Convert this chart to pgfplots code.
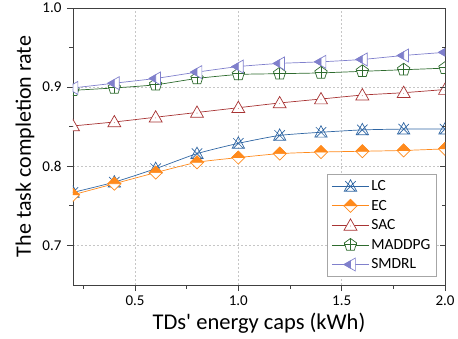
\documentclass[border=0pt]{standalone}
\usepackage{fontspec}
\setmainfont{Carlito}
\usepackage{pgfplots}
\pgfplotsset{compat=1.18}
\definecolor{lcc}{HTML}{2F66A3}
\definecolor{ecc}{HTML}{FF8A1C}
\definecolor{sacc}{HTML}{A83434}
\definecolor{madc}{HTML}{2E6B2E}
\definecolor{smc}{HTML}{8080CC}
\definecolor{axc}{HTML}{404040}
\pgfdeclareplotmark{lcmark}{%
  \pgfpathmoveto{\pgfqpoint{0pt}{\pgfplotmarksize}}%
  \pgfpathlineto{\pgfqpoint{-.95\pgfplotmarksize}{-.75\pgfplotmarksize}}%
  \pgfpathlineto{\pgfqpoint{.95\pgfplotmarksize}{-.75\pgfplotmarksize}}%
  \pgfpathclose
  \pgfpathmoveto{\pgfqpoint{-.8\pgfplotmarksize}{.8\pgfplotmarksize}}%
  \pgfpathlineto{\pgfqpoint{.8\pgfplotmarksize}{-.8\pgfplotmarksize}}%
  \pgfpathmoveto{\pgfqpoint{.8\pgfplotmarksize}{.8\pgfplotmarksize}}%
  \pgfpathlineto{\pgfqpoint{-.8\pgfplotmarksize}{-.8\pgfplotmarksize}}%
  \pgfusepathqstroke}
\pgfdeclareplotmark{ecmark}{%
  \pgfpathmoveto{\pgfqpoint{0pt}{\pgfplotmarksize}}%
  \pgfpathlineto{\pgfqpoint{\pgfplotmarksize}{0pt}}%
  \pgfpathlineto{\pgfqpoint{0pt}{-\pgfplotmarksize}}%
  \pgfpathlineto{\pgfqpoint{-\pgfplotmarksize}{0pt}}%
  \pgfpathclose
  \pgfsetfillcolor{white}\pgfusepathqfillstroke
  \pgfpathmoveto{\pgfqpoint{0pt}{\pgfplotmarksize}}%
  \pgfpathlineto{\pgfqpoint{\pgfplotmarksize}{0pt}}%
  \pgfpathlineto{\pgfqpoint{-\pgfplotmarksize}{0pt}}%
  \pgfpathclose
  \pgfsetfillcolor{ecc}\pgfusepathqfillstroke}
\pgfdeclareplotmark{sacmark}{%
  \pgfpathmoveto{\pgfqpoint{0pt}{\pgfplotmarksize}}%
  \pgfpathlineto{\pgfqpoint{-\pgfplotmarksize}{-.75\pgfplotmarksize}}%
  \pgfpathlineto{\pgfqpoint{\pgfplotmarksize}{-.75\pgfplotmarksize}}%
  \pgfpathclose
  \pgfsetfillcolor{white}\pgfusepathqfillstroke
  \pgfpathcircle{\pgfqpoint{0pt}{-.1\pgfplotmarksize}}{.4pt}%
  \pgfsetfillcolor{sacc}\pgfusepathqfill}
\pgfdeclareplotmark{madmark}{%
  \pgfpathmoveto{\pgfqpointpolar{90}{\pgfplotmarksize}}%
  \pgfpathlineto{\pgfqpointpolar{162}{\pgfplotmarksize}}%
  \pgfpathlineto{\pgfqpointpolar{234}{\pgfplotmarksize}}%
  \pgfpathlineto{\pgfqpointpolar{306}{\pgfplotmarksize}}%
  \pgfpathlineto{\pgfqpointpolar{18}{\pgfplotmarksize}}%
  \pgfpathclose
  \pgfsetfillcolor{white}\pgfusepathqfillstroke
  \pgfpathmoveto{\pgfqpoint{0pt}{\pgfplotmarksize}}%
  \pgfpathlineto{\pgfqpoint{0pt}{-.8\pgfplotmarksize}}%
  \pgfpathmoveto{\pgfqpoint{-.95\pgfplotmarksize}{.1\pgfplotmarksize}}%
  \pgfpathlineto{\pgfqpoint{.95\pgfplotmarksize}{.1\pgfplotmarksize}}%
  \pgfusepathqstroke}
\pgfdeclareplotmark{smmark}{%
  \pgfpathmoveto{\pgfqpoint{-\pgfplotmarksize}{0pt}}%
  \pgfpathlineto{\pgfqpoint{.75\pgfplotmarksize}{\pgfplotmarksize}}%
  \pgfpathlineto{\pgfqpoint{.75\pgfplotmarksize}{-\pgfplotmarksize}}%
  \pgfpathclose
  \pgfsetfillcolor{white}\pgfusepathqfillstroke
  \pgfpathmoveto{\pgfqpoint{-\pgfplotmarksize}{0pt}}%
  \pgfpathlineto{\pgfqpoint{0pt}{.57\pgfplotmarksize}}%
  \pgfpathlineto{\pgfqpoint{0pt}{-.57\pgfplotmarksize}}%
  \pgfpathclose
  \pgfsetfillcolor{smc}\pgfusepathqfillstroke}
\begin{document}
\begin{tikzpicture}
\begin{axis}[
  name=ax,
  scale only axis,
  width=372pt, height=277pt,
  xmin=0.2, xmax=2.0, ymin=0.65, ymax=1.0,
  xtick={0.5,1.0,1.5,2.0},
  minor xtick={0.25,0.75,1.25,1.75},
  ytick={0.7,0.8,0.9,1.0},
  minor ytick={0.75,0.85,0.95},
  xticklabel style={/pgf/number format/fixed,/pgf/number format/fixed zerofill,/pgf/number format/precision=1, yshift=-1pt},
  yticklabel style={/pgf/number format/fixed,/pgf/number format/fixed zerofill,/pgf/number format/precision=1, xshift=-2pt},
  /pgf/number format/assume math mode=true,
  tick label style={font=\fontsize{15}{17}\selectfont, text=black},
  label style={font=\fontsize{22.5}{26}\selectfont},
  xlabel={TDs\textquotesingle\ energy caps (kWh)},
  ylabel={The task completion rate},
  xlabel style={at={(axis description cs:0.5,0)}, anchor=center, yshift=-38pt},
  ylabel style={at={(axis description cs:0,0.5)}, anchor=center, rotate=0, yshift=48pt, font=\fontsize{22}{26}\selectfont},
  axis line style={axc, line width=0.9pt},
  tick style={axc, line width=0.8pt},
  tick align=outside,
  major tick length=6pt, minor tick length=3.5pt,
  xtick pos=bottom, ytick pos=left,
  grid=major,
  major grid style={gray!45, dash pattern=on 2pt off 2pt, line width=0.5pt},
  clip marker paths=true,
  legend style={at={(0.978,0.03)}, anchor=south east, draw=gray!70, line width=0.8pt,
    font=\fontsize{15.5}{17}\selectfont, row sep=4pt, inner sep=4pt, fill=white},
  legend cell align=left,
  legend image code/.code={\draw[mark repeat=2,mark phase=2,#1] plot coordinates {(0cm,0cm) (0.65cm,0cm) (1.3cm,0cm)};},
  every axis plot/.append style={line width=0.7pt, mark size=6.5pt, smooth, tension=0.35},
]
\addplot[lcc, mark=lcmark, mark options={solid, line width=0.7pt}] coordinates {
(0.2,0.767) (0.4,0.780) (0.6,0.797) (0.8,0.816) (1.0,0.829) (1.2,0.839) (1.4,0.843) (1.6,0.846) (1.8,0.847) (2.0,0.847)};
\addlegendentry{LC}
\addplot[ecc, mark=ecmark, mark options={solid, line width=0.7pt}] coordinates {
(0.2,0.764) (0.4,0.778) (0.6,0.792) (0.8,0.805) (1.0,0.811) (1.2,0.816) (1.4,0.818) (1.6,0.819) (1.8,0.820) (2.0,0.822)};
\addlegendentry{EC}
\addplot[sacc, mark=sacmark, mark options={solid, line width=0.7pt}] coordinates {
(0.2,0.851) (0.4,0.856) (0.6,0.862) (0.8,0.868) (1.0,0.874) (1.2,0.880) (1.4,0.885) (1.6,0.890) (1.8,0.893) (2.0,0.897)};
\addlegendentry{SAC}
\addplot[madc, mark=madmark, mark options={solid, line width=0.7pt}] coordinates {
(0.2,0.896) (0.4,0.899) (0.6,0.903) (0.8,0.911) (1.0,0.916) (1.2,0.917) (1.4,0.918) (1.6,0.920) (1.8,0.922) (2.0,0.924)};
\addlegendentry{MADDPG}
\addplot[smc, mark=smmark, mark options={solid, line width=0.7pt}] coordinates {
(0.2,0.899) (0.4,0.905) (0.6,0.911) (0.8,0.919) (1.0,0.926) (1.2,0.930) (1.4,0.932) (1.6,0.935) (1.8,0.940) (2.0,0.944)};
\addlegendentry{SMDRL}
\end{axis}
\begin{axis}[
  scale only axis,
  width=372pt, height=277pt,
  xmin=0.2, xmax=2.0, ymin=0.65, ymax=1.0,
  axis x line=none,
  axis y line*=right,
  ytick={0.7,0.8,0.9,1.0},
  minor ytick={0.75,0.85,0.95},
  yticklabels={},
  axis line style={draw=none},
  tick style={axc, line width=0.8pt},
  tick align=inside,
  major tick length=5pt, minor tick length=3pt,
]
\end{axis}
\pgfresetboundingbox
\path[use as bounding box] ([xshift=-73pt,yshift=-53pt]ax.south west) rectangle ([xshift=13pt,yshift=8pt]ax.north east);
\end{tikzpicture}
\end{document}
